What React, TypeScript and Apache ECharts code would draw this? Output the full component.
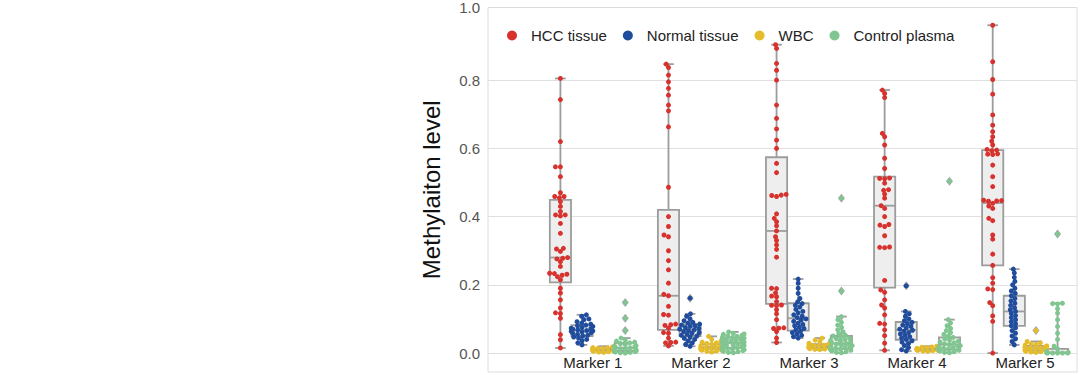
import React, { useEffect, useRef } from 'react';
import * as echarts from 'echarts';

const categories = ['Marker 1', 'Marker 2', 'Marker 3', 'Marker 4', 'Marker 5'];
const hues = ['HCC tissue', 'Normal tissue', 'WBC', 'Control plasma'];
const hueColors = ['#d8322e', '#1f4c9c', '#e5bd2c', '#80c690'];
const yTicks = [0, 0.2, 0.4, 0.6, 0.8];

// swarm values per marker
const hccValues = [
  [0.805, 0.743, 0.62, 0.546, 0.546, 0.517, 0.47, 0.459, 0.459, 0.455, 0.444, 0.43, 0.415, 0.405, 0.405, 0.402, 0.38, 0.351, 0.307, 0.305, 0.298, 0.28, 0.278, 0.276, 0.268, 0.254, 0.234, 0.233, 0.231, 0.228, 0.224, 0.215, 0.19, 0.176, 0.156, 0.132, 0.118, 0.116, 0.102, 0.054, 0.039, 0.015],
  [0.847, 0.837, 0.815, 0.795, 0.776, 0.756, 0.727, 0.71, 0.663, 0.486, 0.4, 0.371, 0.346, 0.341, 0.3, 0.271, 0.244, 0.205, 0.172, 0.168, 0.137, 0.113, 0.111, 0.085, 0.083, 0.081, 0.073, 0.06, 0.058, 0.044, 0.032, 0.031, 0.03, 0.021],
  [0.904, 0.893, 0.849, 0.829, 0.8, 0.727, 0.688, 0.657, 0.624, 0.6, 0.556, 0.529, 0.465, 0.463, 0.462, 0.459, 0.408, 0.395, 0.385, 0.373, 0.358, 0.341, 0.33, 0.317, 0.304, 0.281, 0.19, 0.189, 0.176, 0.167, 0.165, 0.151, 0.141, 0.14, 0.139, 0.127, 0.115, 0.098, 0.074, 0.073, 0.072, 0.063, 0.044, 0.031],
  [0.771, 0.761, 0.749, 0.644, 0.634, 0.61, 0.571, 0.541, 0.513, 0.512, 0.511, 0.498, 0.479, 0.477, 0.466, 0.454, 0.432, 0.424, 0.4, 0.377, 0.375, 0.371, 0.344, 0.311, 0.31, 0.309, 0.213, 0.185, 0.178, 0.156, 0.141, 0.132, 0.112, 0.087, 0.085, 0.068, 0.051, 0.029, 0.008],
  [0.961, 0.854, 0.802, 0.759, 0.698, 0.668, 0.649, 0.634, 0.621, 0.61, 0.597, 0.595, 0.593, 0.584, 0.583, 0.582, 0.551, 0.517, 0.488, 0.448, 0.447, 0.446, 0.445, 0.439, 0.431, 0.424, 0.395, 0.388, 0.346, 0.334, 0.29, 0.257, 0.221, 0.205, 0.188, 0.186, 0.148, 0.139, 0.109, 0.093, 0.0],
];
const normalValues = [
  [0.112, 0.108, 0.1, 0.098, 0.092, 0.088, 0.085, 0.082, 0.08, 0.078, 0.075, 0.073, 0.072, 0.07, 0.068, 0.066, 0.065, 0.064, 0.062, 0.06, 0.058, 0.055, 0.052, 0.05, 0.047, 0.044, 0.04, 0.036, 0.03, 0.024],
  [0.161, 0.115, 0.108, 0.1, 0.095, 0.09, 0.088, 0.085, 0.082, 0.08, 0.078, 0.075, 0.072, 0.07, 0.068, 0.066, 0.063, 0.06, 0.058, 0.055, 0.052, 0.05, 0.046, 0.043, 0.04, 0.035, 0.03, 0.025, 0.02],
  [0.217, 0.205, 0.19, 0.175, 0.16, 0.15, 0.145, 0.14, 0.135, 0.128, 0.122, 0.118, 0.112, 0.108, 0.104, 0.1, 0.097, 0.093, 0.088, 0.084, 0.08, 0.076, 0.072, 0.068, 0.064, 0.06, 0.056, 0.052, 0.048, 0.044],
  [0.197, 0.122, 0.115, 0.108, 0.1, 0.095, 0.09, 0.086, 0.082, 0.078, 0.074, 0.07, 0.067, 0.064, 0.06, 0.056, 0.052, 0.048, 0.044, 0.04, 0.036, 0.032, 0.028, 0.022, 0.016, 0.01, 0.006],
  [0.246, 0.235, 0.222, 0.21, 0.2, 0.19, 0.182, 0.175, 0.168, 0.16, 0.153, 0.146, 0.14, 0.133, 0.127, 0.122, 0.116, 0.11, 0.104, 0.098, 0.092, 0.086, 0.08, 0.074, 0.066, 0.058, 0.05, 0.042, 0.034, 0.024],
];
const wbcValues = [
  [0.02, 0.018, 0.016, 0.015, 0.014, 0.013, 0.012, 0.012, 0.011, 0.011, 0.01, 0.01, 0.01, 0.009, 0.009, 0.008, 0.008, 0.007, 0.007, 0.006, 0.005, 0.004, 0.003, 0.002],
  [0.049, 0.04, 0.035, 0.032, 0.03, 0.028, 0.026, 0.024, 0.022, 0.021, 0.02, 0.019, 0.018, 0.017, 0.016, 0.015, 0.014, 0.013, 0.012, 0.011, 0.01, 0.009, 0.008, 0.006, 0.005, 0.003],
  [0.044, 0.038, 0.034, 0.031, 0.029, 0.027, 0.026, 0.024, 0.023, 0.022, 0.021, 0.02, 0.019, 0.018, 0.017, 0.016, 0.015, 0.014, 0.013, 0.012, 0.011, 0.01],
  [0.02, 0.018, 0.017, 0.016, 0.015, 0.014, 0.013, 0.013, 0.012, 0.012, 0.011, 0.011, 0.01, 0.01, 0.009, 0.009, 0.008, 0.008, 0.007, 0.006, 0.005],
  [0.066, 0.034, 0.03, 0.027, 0.025, 0.023, 0.021, 0.02, 0.018, 0.017, 0.016, 0.015, 0.014, 0.013, 0.012, 0.011, 0.01, 0.009, 0.008, 0.007, 0.006, 0.005, 0.004, 0.003, 0.002],
];
const controlValues = [
  [0.148, 0.102, 0.066, 0.044, 0.038, 0.035, 0.032, 0.03, 0.028, 0.025, 0.022, 0.02, 0.018, 0.016, 0.015, 0.013, 0.012, 0.01, 0.009, 0.008, 0.007, 0.006, 0.005, 0.004, 0.003, 0.002, 0.001, 0.0],
  [0.062, 0.058, 0.056, 0.055, 0.052, 0.05, 0.049, 0.047, 0.045, 0.044, 0.042, 0.04, 0.039, 0.037, 0.035, 0.034, 0.032, 0.03, 0.029, 0.027, 0.025, 0.024, 0.022, 0.02, 0.019, 0.017, 0.015, 0.014, 0.012, 0.01, 0.009, 0.007, 0.005, 0.004, 0.002, 0.001],
  [0.454, 0.182, 0.107, 0.098, 0.09, 0.082, 0.075, 0.068, 0.062, 0.057, 0.052, 0.05, 0.047, 0.044, 0.042, 0.04, 0.037, 0.035, 0.033, 0.03, 0.028, 0.026, 0.024, 0.022, 0.02, 0.018, 0.016, 0.014, 0.012, 0.01, 0.008, 0.006, 0.004, 0.002, 0.001],
  [0.504, 0.098, 0.088, 0.08, 0.072, 0.066, 0.06, 0.055, 0.05, 0.046, 0.042, 0.038, 0.035, 0.032, 0.03, 0.027, 0.025, 0.022, 0.02, 0.018, 0.016, 0.014, 0.012, 0.01, 0.008, 0.006, 0.004, 0.002, 0.001],
  [0.349, 0.146, 0.145, 0.144, 0.13, 0.117, 0.098, 0.078, 0.058, 0.04, 0.02, 0.012, 0.005, 0.002, 0.001, 0.0, 0.0, 0.0, 0.0, 0.0],
];

// box statistics per marker: [lower whisker, Q1, median, Q3, upper whisker]
const hccBox = [
  [0.015, 0.207, 0.28, 0.449, 0.805],
  [0.021, 0.068, 0.168, 0.42, 0.847],
  [0.031, 0.144, 0.358, 0.574, 0.904],
  [0.008, 0.192, 0.432, 0.517, 0.771],
  [0.0, 0.257, 0.44, 0.595, 0.961],
];
const normalBox = [
  [0.024, 0.05, 0.066, 0.082, 0.112],
  [0.02, 0.05, 0.068, 0.085, 0.115],
  [0.044, 0.066, 0.102, 0.146, 0.217],
  [0.006, 0.039, 0.068, 0.091, 0.122],
  [0.024, 0.08, 0.122, 0.168, 0.246],
];
const wbcBox = [
  [0.002, 0.007, 0.01, 0.012, 0.02],
  [0.003, 0.012, 0.018, 0.026, 0.049],
  [0.01, 0.015, 0.02, 0.026, 0.044],
  [0.005, 0.008, 0.011, 0.013, 0.02],
  [0.002, 0.008, 0.014, 0.021, 0.034],
];
const controlBox = [
  [0.0, 0.006, 0.015, 0.03, 0.044],
  [0.001, 0.015, 0.03, 0.045, 0.062],
  [0.0, 0.012, 0.028, 0.05, 0.107],
  [0.001, 0.01, 0.025, 0.046, 0.098],
  [0.0, 0.0, 0.002, 0.012, 0.146],
];

// outliers (drawn as grey diamonds under the swarm)
const hccFliers: number[][] = [[], [], [], [], []];
const normalFliers = [[], [0.161], [], [0.197], []];
const wbcFliers = [[], [], [], [], [0.066]];
const controlFliers = [[0.148, 0.102, 0.066], [], [0.454, 0.182], [0.504], [0.349]];

const W = 1080;
const H = 375;
const GRID = { left: 488, right: 3, top: 6, bottom: 3 };
const X_MIN = -0.97;
const X_MAX = 4.48;
const Y_MIN = -0.0555;
const Y_MAX = 1.013;
const HUE_OFF = [-0.3, -0.1, 0.1, 0.3];
const BOX_W = 0.196;
const DOT = 5;
const SWARM_Y_STRETCH = 1.3;
const FONT = '"Liberation Sans", Arial, Helvetica, sans-serif';

const X_PX = (W - GRID.left - GRID.right) / (X_MAX - X_MIN);
const Y_PX = (H - GRID.top - GRID.bottom) / (Y_MAX - Y_MIN);

function swarmOffsets(values: number[], d: number, gutter: number): number[] {
  const order = values.map((_, i) => i).sort((a, b) => values[a] - values[b]);
  const placed: { x: number; y: number }[] = [];
  const out = new Array(values.length).fill(0);
  for (const i of order) {
    const y = values[i] * Y_PX * SWARM_Y_STRETCH;
    const near = placed.filter((p) => Math.abs(p.y - y) < d);
    const cands = [0];
    for (const p of near) {
      const dx = Math.sqrt(d * d - (p.y - y) * (p.y - y));
      cands.push(p.x - dx, p.x + dx);
    }
    cands.sort((a, b) => Math.abs(a) - Math.abs(b) || a - b);
    let chosen = cands[cands.length - 1];
    for (const c of cands) {
      if (near.every((p) => (p.x - c) ** 2 + (p.y - y) ** 2 >= d * d - 1e-6)) {
        chosen = c;
        break;
      }
    }
    placed.push({ x: chosen, y });
    out[i] = Math.max(-gutter, Math.min(gutter, chosen));
  }
  return out;
}

const allValues = [hccValues, normalValues, wbcValues, controlValues];
const allBoxes = [hccBox, normalBox, wbcBox, controlBox];
const allFliers = [hccFliers, normalFliers, wbcFliers, controlFliers];

function swarmData(h: number) {
  const pts: number[][] = [];
  allValues[h].forEach((vals, k) => {
    const offs = swarmOffsets(vals, DOT, 0.1 * X_PX);
    vals.forEach((v, i) => pts.push([k + HUE_OFF[h] + offs[i] / X_PX, v]));
  });
  return pts;
}

export default function App() {
  const ref = useRef<HTMLDivElement>(null);
  useEffect(() => {
    if (!ref.current) return;
    const chart = echarts.init(ref.current, null, { renderer: 'svg' });

    const boxData: number[][] = [];
    allBoxes.forEach((boxes, h) => boxes.forEach((b, k) => boxData.push([k + HUE_OFF[h], ...b])));
    const flierData: number[][] = [];
    allFliers.forEach((fl, h) => fl.forEach((arr, k) => arr.forEach((v) => flierData.push([k + HUE_OFF[h], v]))));

    const edge = '#9c9c9c';
    const option: any = {
      animation: false,
      backgroundColor: '#ffffff',
      grid: { ...GRID, show: true, borderColor: '#dcdcdc', borderWidth: 1, backgroundColor: 'transparent' },
      legend: {
        data: hues,
        left: 502,
        top: 23,
        icon: 'circle',
        itemWidth: 10,
        itemHeight: 10,
        itemGap: 16,
        selectedMode: false,
        textStyle: { fontSize: 15, color: '#222', fontFamily: FONT, padding: [0, 0, 0, 9] },
      },
      xAxis: {
        type: 'value',
        min: X_MIN,
        max: X_MAX,
        axisLine: { show: false },
        axisTick: { show: false, customValues: [0, 1, 2, 3, 4] },
        splitLine: { show: false },
        axisLabel: {
          customValues: [0, 1, 2, 3, 4],
          inside: true,
          margin: 2,
          formatter: (v: number) => categories[Math.round(v)] ?? '',
          fontSize: 15,
          color: '#222',
          fontFamily: FONT,
        },
      },
      yAxis: {
        type: 'value',
        min: Y_MIN,
        max: Y_MAX,
        name: 'Methylaiton level',
        nameLocation: 'middle',
        nameGap: 45,
        nameTextStyle: { fontSize: 24, color: '#111', fontFamily: FONT },
        axisLine: { show: false },
        axisTick: { show: false, customValues: yTicks },
        splitLine: { show: true, lineStyle: { color: '#e0e0e0', width: 1 } },
        axisLabel: {
          customValues: [...yTicks, Y_MAX],
          formatter: (v: number) => (v > 0.9 ? '1.0' : v.toFixed(1)),
          fontSize: 15,
          color: '#555',
          margin: 8,
          fontFamily: FONT,
        },
      },
      series: [
        {
          type: 'custom',
          name: 'boxes',
          z: 1,
          silent: true,
          encode: { x: 0, y: [1, 2, 3, 4, 5] },
          data: boxData,
          renderItem: (params: any, api: any) => {
            const x = api.value(0);
            const lo = api.coord([x, api.value(1)]);
            const q1 = api.coord([x, api.value(2)]);
            const md = api.coord([x, api.value(3)]);
            const q3 = api.coord([x, api.value(4)]);
            const hi = api.coord([x, api.value(5)]);
            const w = api.size([BOX_W, 0])[0];
            const cx = lo[0];
            const cap = w / 4;
            const st = { stroke: edge, lineWidth: 1.8, fill: null };
            return {
              type: 'group',
              children: [
                { type: 'line', shape: { x1: cx, y1: lo[1], x2: cx, y2: q1[1] }, style: st },
                { type: 'line', shape: { x1: cx, y1: q3[1], x2: cx, y2: hi[1] }, style: st },
                { type: 'line', shape: { x1: cx - cap, y1: lo[1], x2: cx + cap, y2: lo[1] }, style: st },
                { type: 'line', shape: { x1: cx - cap, y1: hi[1], x2: cx + cap, y2: hi[1] }, style: st },
                {
                  type: 'rect',
                  shape: { x: cx - w / 2, y: q3[1], width: w, height: q1[1] - q3[1] },
                  style: { fill: '#eeeeee', stroke: edge, lineWidth: 1.8 },
                },
                { type: 'line', shape: { x1: cx - w / 2, y1: md[1], x2: cx + w / 2, y2: md[1] }, style: st },
              ],
            };
          },
        },
        {
          type: 'scatter',
          name: 'outliers',
          z: 2,
          symbol: 'diamond',
          symbolSize: [7, 9],
          itemStyle: { color: '#8e8e8e' },
          data: flierData,
        },
        ...hues.map((name, h) => ({
          type: 'scatter',
          name,
          z: 3,
          symbol: 'circle',
          symbolSize: DOT,
          itemStyle: { color: hueColors[h], opacity: 1 },
          data: swarmData(h),
        })),
      ],
    };
    chart.setOption(option);
    return () => chart.dispose();
  }, []);
  return <div ref={ref} style={{ position: 'fixed', left: 0, top: 0, width: W, height: H }} />;
}
